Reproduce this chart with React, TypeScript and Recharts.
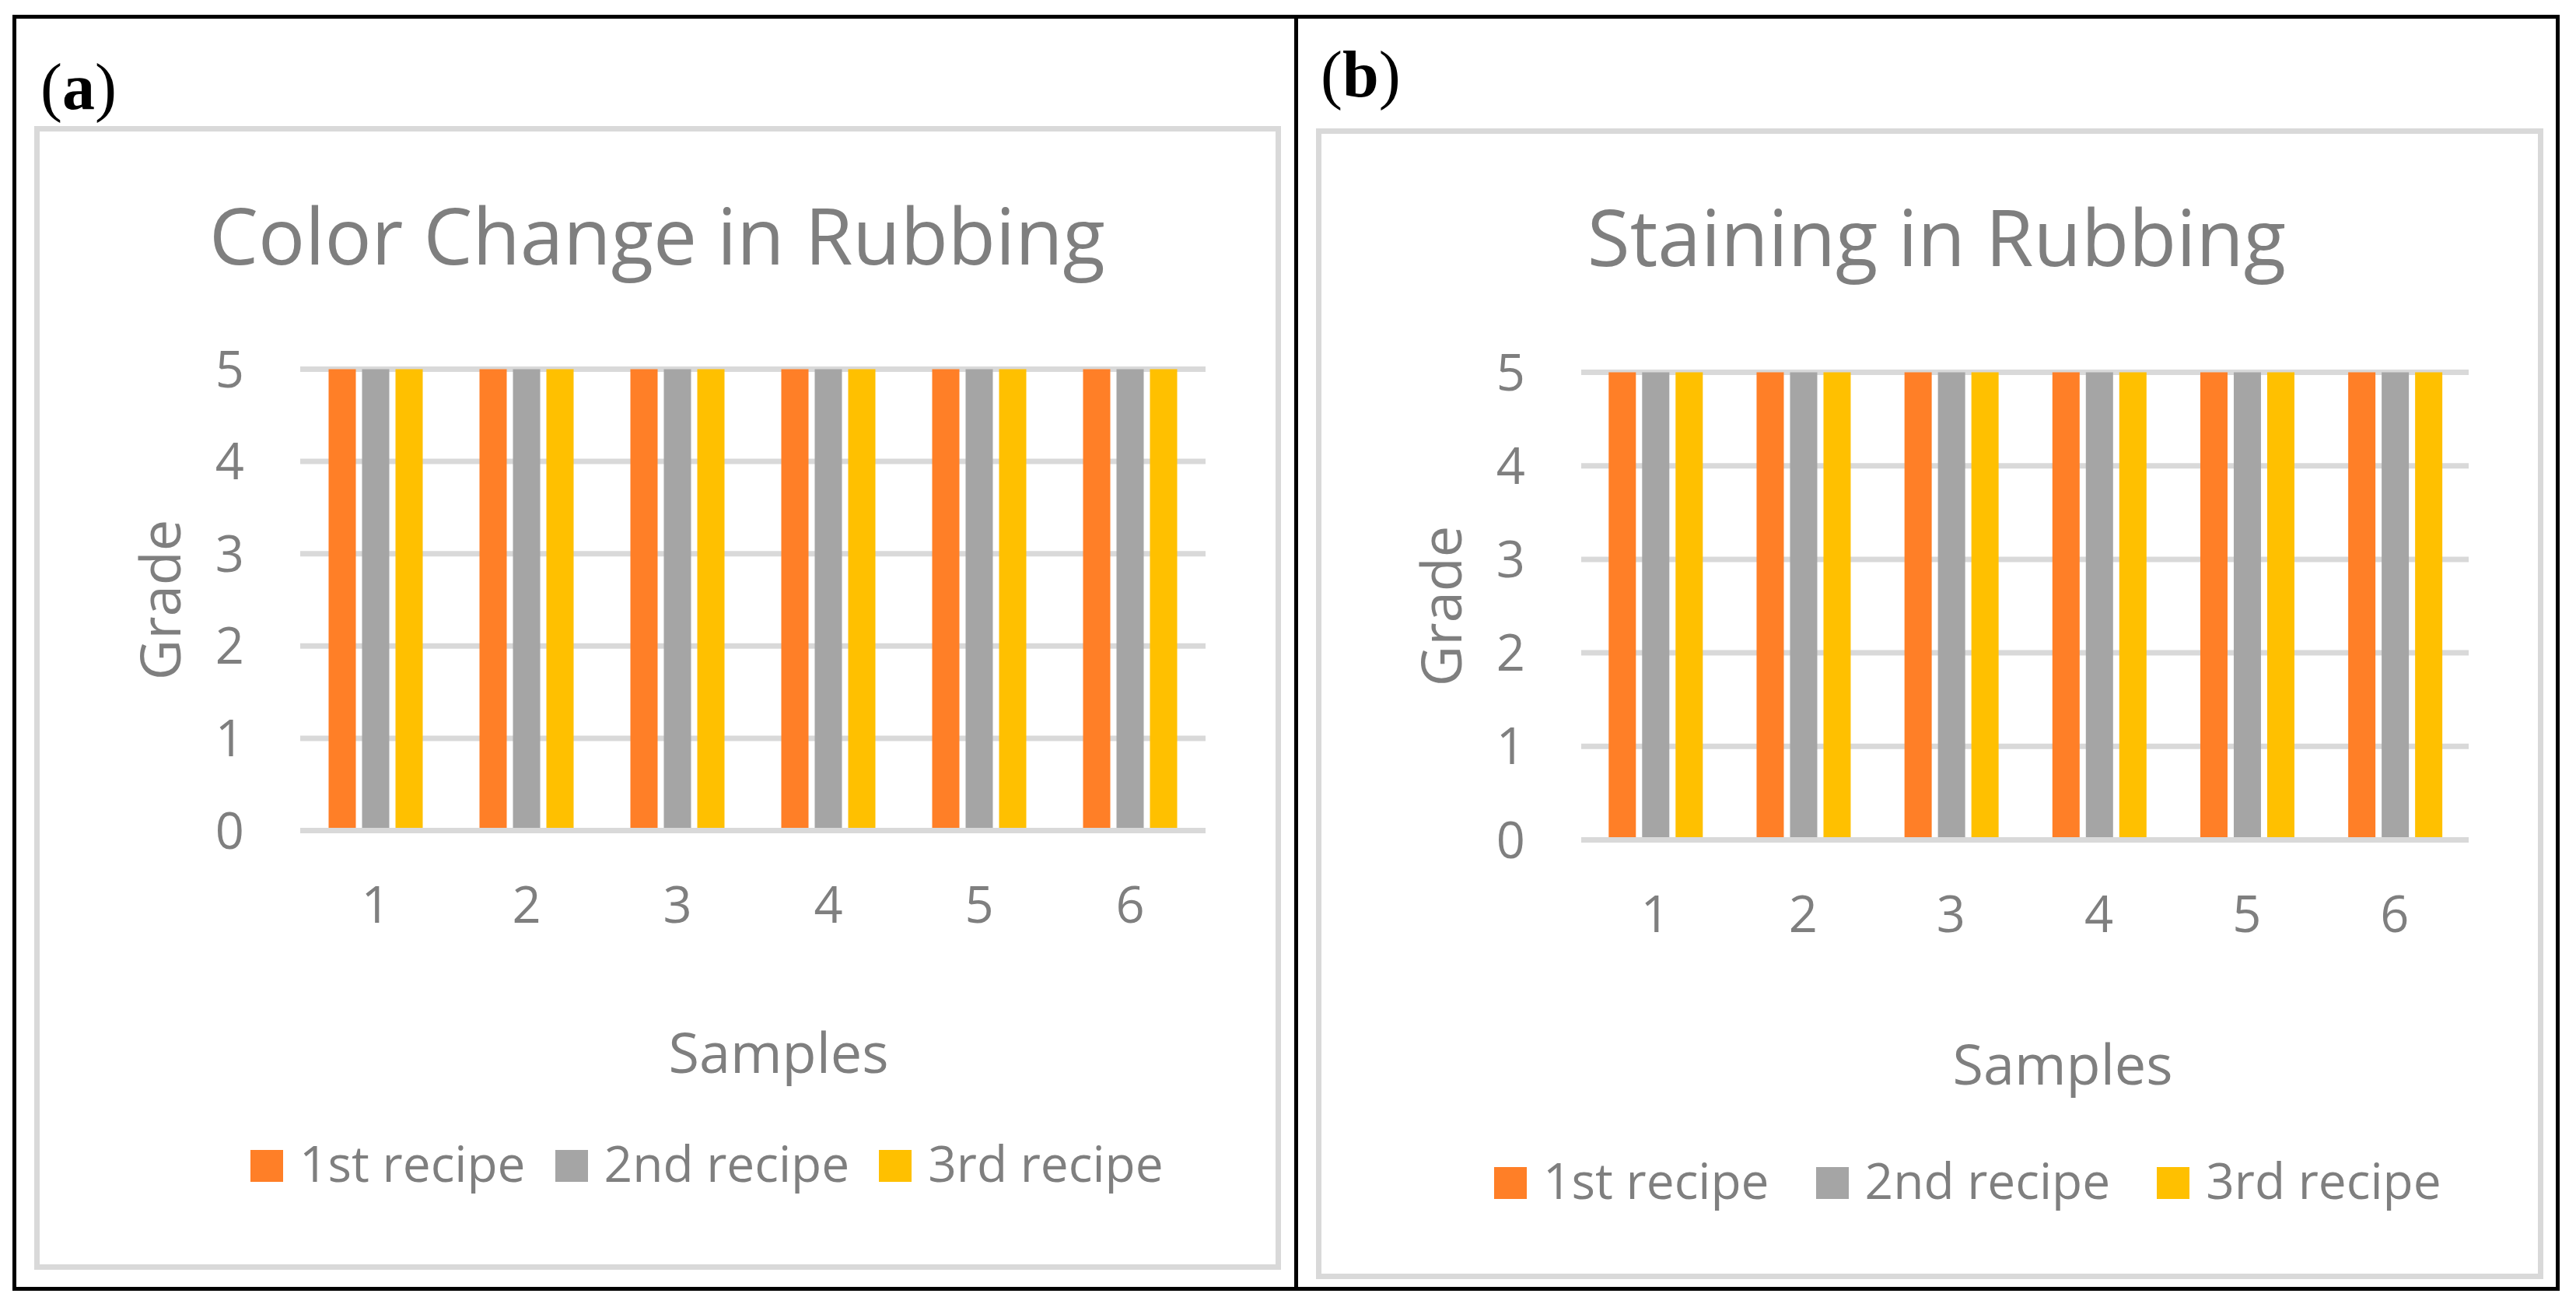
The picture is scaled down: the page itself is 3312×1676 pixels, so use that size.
import React from "react";
import { BarChart, Bar, XAxis, YAxis, CartesianGrid, Label } from "recharts";

// ---------------------------------------------------------------------------
// Data
// ---------------------------------------------------------------------------
const samples = ["1", "2", "3", "4", "5", "6"];
const recipeNames = ["1st recipe", "2nd recipe", "3rd recipe"];
const recipeColors = ["#FF7F27", "#A5A5A5", "#FFC000"];
const gradeTicks = [0, 1, 2, 3, 4, 5];

// (a) colour change in rubbing
const colorChangeFirst = [5, 5, 5, 5, 5, 5];
const colorChangeSecond = [5, 5, 5, 5, 5, 5];
const colorChangeThird = [5, 5, 5, 5, 5, 5];

// (b) staining in rubbing
const stainingFirst = [5, 5, 5, 5, 5, 5];
const stainingSecond = [5, 5, 5, 5, 5, 5];
const stainingThird = [5, 5, 5, 5, 5, 5];

const FONT = '"Open Sans", sans-serif';
const TEXT = "#7F7F7F";
const GRID = "#D9D9D9";

type Row = { sample: string; r1: number; r2: number; r3: number };

function buildRows(first: number[], second: number[], third: number[]): Row[] {
  return samples.map((s, i) => ({ sample: s, r1: first[i], r2: second[i], r3: third[i] }));
}

// ---------------------------------------------------------------------------
// One framed chart
// ---------------------------------------------------------------------------
interface PanelProps {
  rows: Row[];
  frame: { left: number; top: number; width: number; height: number };
  margin: { top: number; right: number; bottom: number; left: number };
  categoryGap: number;
  samplesDx: number;
  samplesDy: number;
  legendLeft: number;
  legendTop: number;
  legendGap: number;
}

function Panel({ rows, frame, margin, categoryGap, samplesDx, samplesDy, legendLeft, legendTop, legendGap }: PanelProps) {
  const border = 7;
  const w = frame.width - 2 * border;
  const h = frame.height - 2 * border;
  return (
    <div
      style={{
        position: "absolute",
        left: frame.left,
        top: frame.top,
        width: frame.width,
        height: frame.height,
        border: `${border}px solid ${GRID}`,
        boxSizing: "border-box",
        background: "#fff",
      }}
    >
      <BarChart width={w} height={h} data={rows} margin={margin} barGap={8} barCategoryGap={categoryGap}>
        <CartesianGrid horizontal vertical={false} stroke={GRID} strokeWidth={7} />
        <XAxis
          dataKey="sample"
          height={60}
          tickLine={false}
          axisLine={{ stroke: GRID, strokeWidth: 7 }}
          tickSize={0}
          tickMargin={72}
          tick={{ fill: TEXT, fontSize: 65, fontFamily: FONT }}
        >
          <Label
            content={(p: any) => {
              const vb = p.viewBox;
              return (
                <text
                  x={vb.x + vb.width / 2 + samplesDx}
                  y={vb.y + samplesDy}
                  textAnchor="middle"
                  fill={TEXT}
                  fontSize={72}
                  fontFamily={FONT}
                >
                  Samples
                </text>
              );
            }}
          />
        </XAxis>
        <YAxis
          width={100}
          domain={[0, 5]}
          ticks={gradeTicks}
          interval={0}
          tickLine={false}
          axisLine={false}
          tickSize={0}
          tickMargin={72}
          tick={{ fill: TEXT, fontSize: 65, fontFamily: FONT }}
        >
          <Label
            content={(p: any) => {
              const vb = p.viewBox;
              const x = vb.x + vb.width - 154;
              const y = vb.y + vb.height / 2;
              return (
                <text
                  x={x}
                  y={y}
                  transform={`rotate(-90, ${x}, ${y})`}
                  textAnchor="middle"
                  fill={TEXT}
                  fontSize={72}
                  fontFamily={FONT}
                >
                  Grade
                </text>
              );
            }}
          />
        </YAxis>
        <Bar dataKey="r1" name={recipeNames[0]} fill={recipeColors[0]} isAnimationActive={false} />
        <Bar dataKey="r2" name={recipeNames[1]} fill={recipeColors[1]} isAnimationActive={false} />
        <Bar dataKey="r3" name={recipeNames[2]} fill={recipeColors[2]} isAnimationActive={false} />
      </BarChart>
      <div
        style={{
          position: "absolute",
          left: legendLeft,
          top: legendTop,
          display: "flex",
          alignItems: "baseline",
          fontFamily: FONT,
          fontSize: 64,
          lineHeight: 1,
          color: TEXT,
          whiteSpace: "nowrap",
        }}
      >
        {recipeNames.map((name, i) => (
          <div key={name} style={{ display: "flex", alignItems: "baseline", marginRight: legendGap }}>
            <div style={{ width: 42, height: 41, background: recipeColors[i], marginRight: 21 }} />
            <span>{name}</span>
          </div>
        ))}
      </div>
    </div>
  );
}

// ---------------------------------------------------------------------------
// Page
// ---------------------------------------------------------------------------
export default function App() {
  const rowsA = buildRows(colorChangeFirst, colorChangeSecond, colorChangeThird);
  const rowsB = buildRows(stainingFirst, stainingSecond, stainingThird);

  return (
    <div style={{ position: "absolute", left: 0, top: 0, width: 3312, height: 1676, background: "#fff", overflow: "hidden" }}>
      <div
        style={{
          position: "absolute",
          left: 16,
          top: 19,
          width: 3275,
          height: 1640,
          border: "5px solid #000",
          boxSizing: "border-box",
        }}
      />
      <div style={{ position: "absolute", left: 1664, top: 19, width: 5, height: 1640, background: "#000" }} />

      <Panel
        rows={rowsA}
        frame={{ left: 44, top: 162, width: 1603, height: 1470 }}
        margin={{ top: 305.5, right: 90, bottom: 497.5, left: 235 }}
        categoryGap={36.5}
        samplesDx={33}
        samplesDy={311.5}
        legendLeft={271}
        legendTop={1294}
        legendGap={38}
      />
      <Panel
        rows={rowsB}
        frame={{ left: 1692, top: 165, width: 1578, height: 1479 }}
        margin={{ top: 306.5, right: 89, bottom: 497.5, left: 234 }}
        categoryGap={35.3}
        samplesDx={48.5}
        samplesDy={314.5}
        legendLeft={222}
        legendTop={1313}
        legendGap={60}
      />

      <svg width={3312} height={1676} style={{ position: "absolute", left: 0, top: 0, pointerEvents: "none" }}>
        <text x={52} y={140} fontFamily='"Liberation Serif", serif' fontSize={84} fill="#000">
          (<tspan fontWeight="bold">a</tspan>)
        </text>
        <text x={1698} y={124} fontFamily='"Liberation Serif", serif' fontSize={84} fill="#000">
          (<tspan fontWeight="bold">b</tspan>)
        </text>
        <text x={845} y={340} textAnchor="middle" fontFamily={FONT} fontSize={100} fill={TEXT}>
          Color Change in Rubbing
        </text>
        <text x={2490} y={342} textAnchor="middle" fontFamily={FONT} fontSize={100} fill={TEXT}>
          Staining in Rubbing
        </text>
      </svg>
    </div>
  );
}
